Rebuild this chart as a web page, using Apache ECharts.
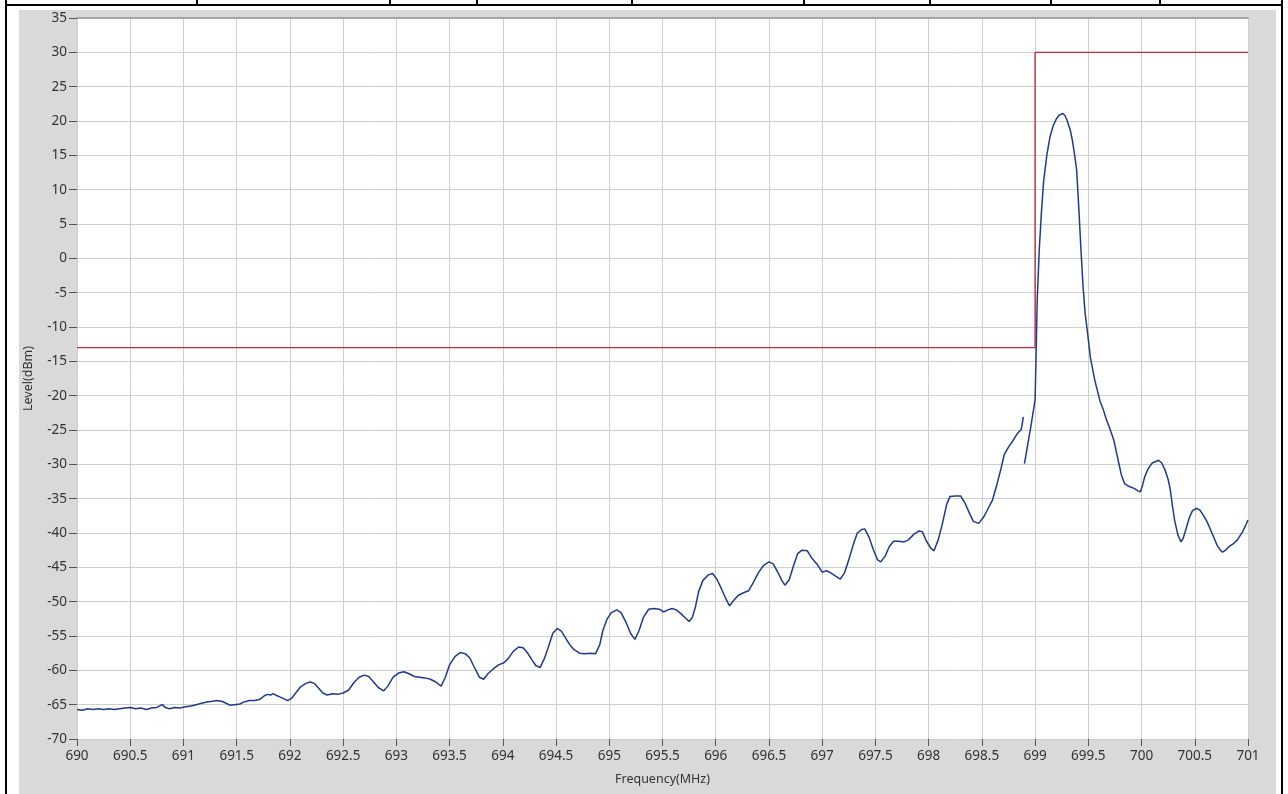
<!DOCTYPE html>
<html>
<head>
<meta charset="utf-8">
<script src="https://cdn.jsdelivr.net/npm/echarts@6/dist/echarts.min.js"></script>
<style>
  html, body { margin: 0; padding: 0; background: #ffffff; }
  #wrap { position: relative; width: 1288px; height: 794px; overflow: hidden; background: #fff; }
  #panel { position: absolute; left: 19px; top: 10px; width: 1257px; height: 784px; background: #d9d9d9; }
  .bl { position: absolute; background: #000; }
  #chart { position: absolute; left: 0; top: 0; width: 1288px; height: 794px; }
</style>
</head>
<body>
<div id="wrap">
  <div id="panel"></div>
  <div class="bl" style="left:5px;top:0;width:2px;height:794px"></div>
  <div class="bl" style="left:1281px;top:0;width:2px;height:794px"></div>
  <div class="bl" style="left:5px;top:4px;width:1278px;height:2px"></div>
  <div class="bl" style="left:196px;top:0;width:2px;height:5px"></div>
  <div class="bl" style="left:389px;top:0;width:2px;height:5px"></div>
  <div class="bl" style="left:476px;top:0;width:2px;height:5px"></div>
  <div class="bl" style="left:631px;top:0;width:2px;height:5px"></div>
  <div class="bl" style="left:803px;top:0;width:2px;height:5px"></div>
  <div class="bl" style="left:929px;top:0;width:2px;height:5px"></div>
  <div class="bl" style="left:1050px;top:0;width:2px;height:5px"></div>
  <div class="bl" style="left:1159px;top:0;width:2px;height:5px"></div>
  <div id="chart"></div>
</div>
<script>
// ---- Data ----
var xAxisTitle = 'Frequency(MHz)';
var yAxisTitle = 'Level(dBm)';

// limit mask (red)
var maskFreq  = [690, 699, 699, 701];
var maskLevel = [-13, -13, 30, 30];

// measured trace, part 1 (blue)
var traceFreq1 = [
  690.00,690.05,690.10,690.15,690.20,690.25,690.30,690.35,690.40,690.45,
  690.50,690.55,690.60,690.65,690.70,690.75,690.80,690.83,690.87,690.92,
  690.97,691.02,691.07,691.12,691.17,691.22,691.27,691.31,691.36,691.40,
  691.44,691.48,691.53,691.57,691.62,691.67,691.72,691.76,691.79,691.82,
  691.84,691.88,691.91,691.95,691.98,692.02,692.06,692.10,692.15,692.19,
  692.23,692.27,692.31,692.35,692.40,692.45,692.50,692.55,692.60,692.65,
  692.70,692.74,692.78,692.83,692.88,692.92,692.97,693.02,693.07,693.12,
  693.17,693.22,693.27,693.32,693.37,693.42,693.46,693.50,693.55,693.60,
  693.65,693.69,693.74,693.78,693.82,693.86,693.91,693.96,694.01,694.05,
  694.10,694.15,694.19,694.23,694.27,694.31,694.35,694.39,694.43,694.47,
  694.51,694.55,694.59,694.63,694.67,694.72,694.77,694.82,694.87,694.91,
  694.94,694.98,695.02,695.07,695.11,695.16,695.20,695.24,695.28,695.32,
  695.37,695.42,695.47,695.51,695.55,695.59,695.63,695.67,695.71,695.75,
  695.78,695.81,695.84,695.88,695.93,695.97,696.01,696.05,696.09,696.13,
  696.17,696.21,696.26,696.31,696.35,696.40,696.45,696.50,696.54,696.59,
  696.62,696.65,696.69,696.73,696.77,696.81,696.86,696.90,696.95,697.00,
  697.04,697.08,697.13,697.17,697.21,697.25,697.29,697.33,697.37,697.40,
  697.44,697.48,697.52,697.55,697.59,697.63,697.67,697.72,697.77,697.81,
  697.86,697.91,697.94,697.98,698.02,698.05,698.09,698.13,698.17,698.20,
  698.25,698.30,698.34,698.38,698.42,698.47,698.52,698.56,698.60,698.64,
  698.68,698.71,698.75,698.79,698.83,698.87,698.89
];
var traceLevel1 = [
  -65.7,-65.8,-65.6,-65.7,-65.6,-65.7,-65.6,-65.7,-65.6,-65.5,
  -65.4,-65.6,-65.5,-65.7,-65.5,-65.4,-65.0,-65.4,-65.6,-65.4,
  -65.5,-65.3,-65.2,-65.0,-64.8,-64.6,-64.5,-64.4,-64.5,-64.8,
  -65.1,-65.0,-64.9,-64.6,-64.4,-64.4,-64.2,-63.7,-63.5,-63.6,
  -63.4,-63.7,-63.9,-64.2,-64.4,-64.0,-63.2,-62.4,-61.9,-61.7,
  -61.9,-62.6,-63.3,-63.6,-63.4,-63.5,-63.3,-62.9,-61.8,-61.0,
  -60.7,-60.9,-61.6,-62.5,-63.0,-62.3,-61.0,-60.4,-60.2,-60.5,
  -60.9,-61.0,-61.1,-61.3,-61.7,-62.3,-61.0,-59.2,-58.0,-57.4,
  -57.6,-58.2,-59.8,-61.0,-61.3,-60.5,-59.8,-59.2,-58.9,-58.3,
  -57.2,-56.6,-56.7,-57.4,-58.4,-59.3,-59.6,-58.3,-56.5,-54.6,
  -53.9,-54.3,-55.3,-56.3,-57.0,-57.5,-57.6,-57.5,-57.6,-56.3,
  -54.2,-52.5,-51.6,-51.2,-51.6,-53.1,-54.6,-55.5,-54.2,-52.3,
  -51.1,-51.0,-51.1,-51.5,-51.2,-51.0,-51.2,-51.7,-52.3,-52.9,
  -52.3,-50.7,-48.5,-46.9,-46.1,-45.9,-46.7,-48.0,-49.4,-50.6,
  -49.8,-49.1,-48.7,-48.4,-47.3,-45.8,-44.7,-44.2,-44.5,-45.9,
  -46.9,-47.6,-46.8,-44.8,-43.0,-42.5,-42.6,-43.6,-44.5,-45.7,
  -45.5,-45.8,-46.3,-46.7,-45.8,-43.9,-41.8,-40.0,-39.5,-39.4,
  -40.6,-42.4,-43.9,-44.2,-43.4,-42.0,-41.2,-41.2,-41.3,-41.0,
  -40.2,-39.7,-39.8,-41.2,-42.2,-42.6,-41.0,-38.6,-35.8,-34.7,
  -34.6,-34.6,-35.6,-37.0,-38.3,-38.6,-37.6,-36.4,-35.2,-33.0,
  -30.6,-28.6,-27.5,-26.6,-25.6,-24.9,-23.1
];

// measured trace, part 2 (blue)
var traceFreq2 = [
  698.90,698.93,698.96,699.00,699.01,699.02,699.04,699.06,699.08,699.11,
  699.14,699.17,699.20,699.23,699.26,699.28,699.30,699.33,699.35,699.37,
  699.39,699.41,699.43,699.45,699.47,699.49,699.52,699.56,699.61,699.64,
  699.67,699.70,699.74,699.78,699.81,699.84,699.88,699.93,699.97,699.99,
  700.01,700.03,700.06,700.10,700.16,700.19,700.22,700.25,700.27,700.29,
  700.31,700.34,700.37,700.39,700.42,700.45,700.48,700.52,700.55,700.58,
  700.62,700.65,700.68,700.71,700.74,700.76,700.79,700.82,700.86,700.90,
  700.95,700.98,701.00
];
var traceLevel2 = [
  -29.9,-27.2,-24.5,-20.6,-13.5,-6.0,1.5,6.8,11.2,15.0,
  17.7,19.3,20.3,20.9,21.1,20.8,20.1,18.7,17.2,15.2,
  12.9,7.5,1.5,-4.0,-8.0,-10.5,-14.5,-17.7,-20.8,-22.0,
  -23.5,-24.7,-26.5,-29.4,-31.5,-32.8,-33.2,-33.5,-33.9,-34.0,
  -33.0,-31.8,-30.7,-29.8,-29.4,-29.8,-30.8,-32.2,-33.7,-36.0,
  -38.1,-40.2,-41.3,-40.8,-39.3,-37.7,-36.7,-36.4,-36.7,-37.4,
  -38.5,-39.6,-40.7,-41.8,-42.5,-42.8,-42.5,-42.0,-41.6,-41.0,
  -39.8,-38.8,-38.1
];

function pairs(xs, ys) { return xs.map(function (x, i) { return [x, ys[i]]; }); }

var traceColor = '#1f3a8a';
var maskColor = '#c8283a';
var labelFont = { fontFamily: 'Noto Sans', fontSize: 13.5, color: '#333' };

var chart = echarts.init(document.getElementById('chart'), null, { renderer: 'canvas' });
chart.setOption({
  animation: false,
  backgroundColor: 'transparent',
  grid: {
    left: 77, right: 40, top: 18, bottom: 55,
    show: true, backgroundColor: '#ffffff', borderWidth: 0
  },
  xAxis: [{
    type: 'value', min: 690, max: 701, interval: 0.5, position: 'bottom',
    name: xAxisTitle, nameLocation: 'middle', nameGap: 34,
    nameTextStyle: { fontFamily: 'Noto Sans', fontSize: 12.5, color: '#333' },
    axisLine: { show: false, onZero: false },
    axisTick: { show: true, length: 7, lineStyle: { color: '#555' } },
    axisLabel: Object.assign({ margin: 10 }, labelFont),
    splitLine: { show: true, lineStyle: { color: '#cfcfcf', width: 1 } }
  }, {
    type: 'value', min: 690, max: 701, position: 'top',
    axisLine: { show: true, onZero: false, lineStyle: { color: '#a6a6a6', width: 2 } },
    axisTick: { show: false }, axisLabel: { show: false }, splitLine: { show: false }
  }],
  yAxis: {
    type: 'value', min: -70, max: 35, interval: 5, position: 'left',
    name: yAxisTitle, nameLocation: 'middle', nameRotate: 90, nameGap: 42,
    nameTextStyle: { fontFamily: 'Noto Sans', fontSize: 12.5, color: '#333' },
    axisLine: { show: false, onZero: false },
    axisTick: { show: true, length: 8, lineStyle: { color: '#555' } },
    axisLabel: Object.assign({ margin: 10 }, labelFont),
    splitLine: { show: true, lineStyle: { color: '#cfcfcf', width: 1 } }
  },
  series: [{
    type: 'line', data: pairs(traceFreq1, traceLevel1), showSymbol: false,
    lineStyle: { color: traceColor, width: 1.5 }, z: 2
  }, {
    type: 'line', data: pairs(traceFreq2, traceLevel2), showSymbol: false,
    lineStyle: { color: traceColor, width: 1.5 }, z: 2
  }, {
    type: 'line', data: pairs(maskFreq, maskLevel), showSymbol: false,
    lineStyle: { color: maskColor, width: 1.4 }, z: 3
  }]
});
</script>
</body>
</html>
